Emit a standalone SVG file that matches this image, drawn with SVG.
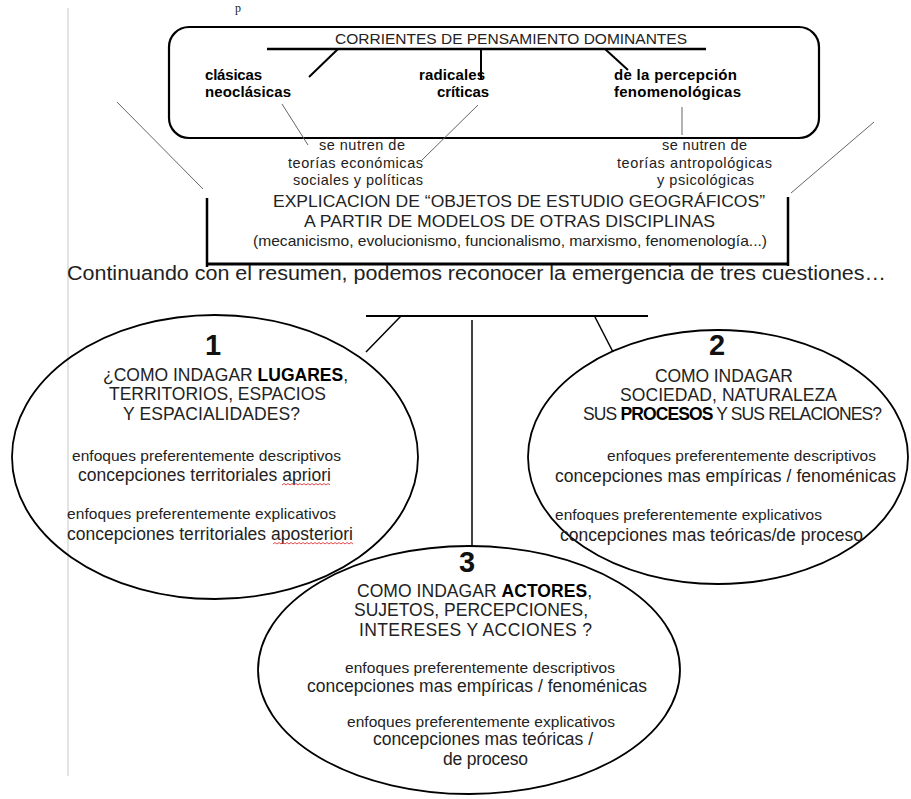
<svg xmlns="http://www.w3.org/2000/svg" width="911" height="799" viewBox="0 0 911 799">
<style>
.t{font-family:"Liberation Sans",Arial,sans-serif;fill:#222}
.b{font-weight:bold;fill:#000}
.sm{font-size:14.5px}
.q{font-size:17.5px}
.d{font-size:15.5px}
.c{font-size:17.5px}
.num{font-family:"Liberation Sans",Arial,sans-serif;font-weight:bold;font-size:29px;fill:#111;text-anchor:middle}
.k{stroke:#000;fill:none}
.g{stroke:#666;stroke-width:1;fill:none}
.sq{stroke:#d33;stroke-width:0.9;fill:none}
</style>
<rect width="911" height="799" fill="#fff"/>
<line x1="68" y1="8" x2="68" y2="776" stroke="#d0d0d0" stroke-width="1.2"/>
<text x="235" y="12" font-family="Liberation Serif,serif" font-size="12" fill="#222">p</text>

<g id="corrientes">
<rect x="169" y="27" width="650" height="111" rx="20" class="k" stroke-width="2.2"/>
<text class="t" x="335" y="44" font-size="14" textLength="352" lengthAdjust="spacingAndGlyphs">CORRIENTES DE PENSAMIENTO DOMINANTES</text>
<line x1="267" y1="49" x2="706" y2="49" class="k" stroke-width="2.5"/>
<line x1="338" y1="49" x2="309" y2="77" class="k" stroke-width="2"/>
<line x1="481" y1="49" x2="481" y2="79" class="k" stroke-width="2"/>
<line x1="605" y1="49" x2="628" y2="70" class="k" stroke-width="2"/>
</g>
<g id="clasicas">
<text class="t b" x="205" y="80" font-size="15" textLength="57" lengthAdjust="spacing">clásicas</text>
<text class="t b" x="205" y="97" font-size="15" textLength="86" lengthAdjust="spacing">neoclásicas</text>
</g>
<g id="radicales">
<text class="t b" x="419" y="80" font-size="15" textLength="66" lengthAdjust="spacing">radicales</text>
<text class="t b" x="437" y="97" font-size="15" textLength="52" lengthAdjust="spacing">críticas</text>
</g>
<g id="percepcion">
<text class="t b" x="614" y="80" font-size="15" textLength="123" lengthAdjust="spacing">de la percepción</text>
<text class="t b" x="614" y="97" font-size="15" textLength="127" lengthAdjust="spacing">fenomenológicas</text>
</g>
<g id="nutren-izq">
<text class="t sm" x="319" y="150" textLength="86" lengthAdjust="spacing">se nutren de</text>
<text class="t sm" x="288" y="168" textLength="135" lengthAdjust="spacing">teorías económicas</text>
<text class="t sm" x="293" y="185" textLength="130" lengthAdjust="spacing">sociales y políticas</text>
</g>
<g id="nutren-der">
<text class="t sm" x="662" y="150" textLength="85" lengthAdjust="spacing">se nutren de</text>
<text class="t sm" x="617" y="168" textLength="155" lengthAdjust="spacing">teorías antropológicas</text>
<text class="t sm" x="657" y="185" textLength="97" lengthAdjust="spacing">y psicológicas</text>
</g>
<g id="explicacion">
<path d="M207,198 V267 M788,197 V266" class="k" stroke-width="2.5"/>
<line x1="207" y1="264" x2="788" y2="264" class="k" stroke-width="2.8"/>
<text class="t" x="273" y="207" font-size="17" textLength="492" lengthAdjust="spacingAndGlyphs">EXPLICACION DE “OBJETOS DE ESTUDIO GEOGRÁFICOS”</text>
<text class="t" x="304" y="227" font-size="17" textLength="411" lengthAdjust="spacingAndGlyphs">A PARTIR DE MODELOS DE OTRAS DISCIPLINAS</text>
<text class="t" x="253" y="246" font-size="14.5" textLength="514" lengthAdjust="spacingAndGlyphs">(mecanicismo, evolucionismo, funcionalismo, marxismo, fenomenología...)</text>
</g>
<g id="continuando">
<text class="t" x="67" y="280" font-size="19.5" fill="#111" textLength="819" lengthAdjust="spacingAndGlyphs">Continuando con el resumen, podemos reconocer la emergencia de tres cuestiones…</text>
</g>

<g id="connectors">
<line x1="282" y1="104" x2="308" y2="145" class="g"/>
<line x1="478" y1="105" x2="422" y2="160" class="g"/>
<line x1="682" y1="107" x2="682" y2="135" class="g"/>
<line x1="117" y1="102" x2="203" y2="189" class="g"/>
<line x1="874" y1="122" x2="791" y2="193" class="g"/>
<line x1="366" y1="316" x2="648" y2="316" class="k" stroke-width="2"/>
<line x1="401" y1="316" x2="366" y2="352" class="k" stroke-width="1.5"/>
<line x1="472" y1="320" x2="472" y2="546" class="k" stroke-width="1.5"/>
<line x1="595" y1="317" x2="613" y2="352" class="k" stroke-width="1.5"/>
</g>

<g id="cuestion1">
<ellipse cx="215" cy="457" rx="203" ry="142" class="k" stroke-width="1.8"/>
<text class="num" x="213" y="355">1</text>
<text class="t q" x="103" y="381" textLength="245" lengthAdjust="spacing">¿COMO INDAGAR <tspan class="b">LUGARES</tspan>,</text>
<text class="t q" x="109" y="400" textLength="217" lengthAdjust="spacing">TERRITORIOS, ESPACIOS</text>
<text class="t q" x="123" y="420" textLength="177" lengthAdjust="spacing">Y ESPACIALIDADES?</text>
<text class="t d" x="72" y="461" textLength="269" lengthAdjust="spacing">enfoques preferentemente descriptivos</text>
<text class="t c" x="78" y="481" textLength="253" lengthAdjust="spacing">concepciones territoriales apriori</text>
<text class="t d" x="67" y="519" textLength="269" lengthAdjust="spacing">enfoques preferentemente explicativos</text>
<text class="t c" x="67" y="540" textLength="286" lengthAdjust="spacing">concepciones territoriales aposteriori</text>
<path class="sq" d="M282,485 l2,-1.5 l2,1.5 l2,-1.5 l2,1.5 l2,-1.5 l2,1.5 l2,-1.5 l2,1.5 l2,-1.5 l2,1.5 l2,-1.5 l2,1.5 l2,-1.5 l2,1.5 l2,-1.5 l2,1.5 l2,-1.5 l2,1.5 l2,-1.5 l2,1.5 l2,-1.5 l2,1.5 l2,-1.5 l2,1.5"/>
<path class="sq" d="M273,544 l2,-1.5 l2,1.5 l2,-1.5 l2,1.5 l2,-1.5 l2,1.5 l2,-1.5 l2,1.5 l2,-1.5 l2,1.5 l2,-1.5 l2,1.5 l2,-1.5 l2,1.5 l2,-1.5 l2,1.5 l2,-1.5 l2,1.5 l2,-1.5 l2,1.5 l2,-1.5 l2,1.5 l2,-1.5 l2,1.5 l2,-1.5 l2,1.5 l2,-1.5 l2,1.5 l2,-1.5 l2,1.5 l2,-1.5 l2,1.5 l2,-1.5 l2,1.5 l2,-1.5 l2,1.5 l2,-1.5 l2,1.5 l2,-1.5 l2,1.5"/>
</g>

<g id="cuestion2">
<ellipse cx="718" cy="457" rx="190" ry="127" class="k" stroke-width="1.8"/>
<text class="num" x="717" y="355">2</text>
<text class="t q" x="655" y="382" textLength="138" lengthAdjust="spacing">COMO INDAGAR</text>
<text class="t q" x="620" y="401" textLength="217" lengthAdjust="spacing">SOCIEDAD, NATURALEZA</text>
<text class="t q" x="583" y="420" textLength="299" lengthAdjust="spacing">SUS <tspan class="b">PROCESOS</tspan> Y SUS RELACIONES?</text>
<text class="t d" x="607" y="461" textLength="269" lengthAdjust="spacing">enfoques preferentemente descriptivos</text>
<text class="t c" x="555" y="482" textLength="341" lengthAdjust="spacing">concepciones mas empíricas / fenoménicas</text>
<text class="t d" x="555" y="520" textLength="267" lengthAdjust="spacing">enfoques preferentemente explicativos</text>
<text class="t c" x="560" y="541" textLength="303" lengthAdjust="spacing">concepciones mas teóricas/de proceso</text>
</g>

<g id="cuestion3">
<ellipse cx="469" cy="670" rx="211" ry="124" class="k" stroke-width="1.8"/>
<text class="num" x="467" y="572">3</text>
<text class="t q" x="357" y="597" textLength="235" lengthAdjust="spacing">COMO INDAGAR <tspan class="b">ACTORES</tspan>,</text>
<text class="t q" x="354" y="616" textLength="234" lengthAdjust="spacing">SUJETOS, PERCEPCIONES,</text>
<text class="t q" x="359" y="636" textLength="233" lengthAdjust="spacing">INTERESES Y ACCIONES ?</text>
<text class="t d" x="345" y="673" textLength="270" lengthAdjust="spacing">enfoques preferentemente descriptivos</text>
<text class="t c" x="307" y="692" textLength="340" lengthAdjust="spacing">concepciones mas empíricas / fenoménicas</text>
<text class="t d" x="347" y="727" textLength="268" lengthAdjust="spacing">enfoques preferentemente explicativos</text>
<text class="t c" x="373" y="745" textLength="220" lengthAdjust="spacing">concepciones mas teóricas /</text>
<text class="t c" x="443" y="765" textLength="85" lengthAdjust="spacing">de proceso</text>
</g>
</svg>
